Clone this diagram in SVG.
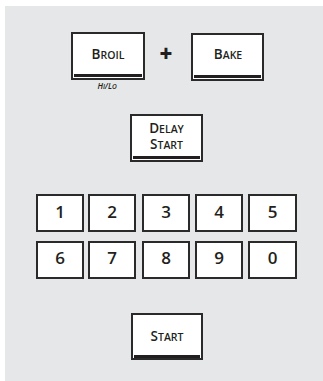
<svg xmlns="http://www.w3.org/2000/svg" width="323" height="381" viewBox="0 0 323 381">
<style>
.key{fill:#fff;stroke:#2a2a2a;stroke-width:2}
.bar{fill:#231f20}
.lbl{font-family:"Open Sans","Noto Sans",sans-serif;fill:#231f20;text-anchor:middle;font-weight:600}
.big{font-size:13.5px}
.sm{font-size:10.5px}
.num{font-family:"Open Sans","Noto Sans",sans-serif;fill:#231f20;text-anchor:middle;font-size:17px;font-weight:600}
</style>
<rect x="0" y="0" width="323" height="381" fill="#fff"/>
<rect x="5" y="6" width="318" height="375" fill="#e6e7e8"/>
<g id="broil">
<rect class="key" x="72" y="33" width="72" height="46"/>
<rect class="bar" x="74" y="74" width="68" height="3"/>
<text class="lbl" x="108" y="58.5"><tspan class="big">B</tspan><tspan class="sm">ROIL</tspan></text>
<text class="lbl" x="107" y="88.5" font-style="italic" font-weight="400"><tspan font-size="8">H</tspan><tspan font-size="6.5">I</tspan><tspan font-size="8">/L</tspan><tspan font-size="6.5">O</tspan></text>
</g>
<g id="plus">
<text x="166" y="62" font-family="'Open Sans','Noto Sans',sans-serif" font-size="22" font-weight="800" fill="#231f20" text-anchor="middle">+</text>
</g>
<g id="bake">
<rect class="key" x="192" y="34" width="71" height="46"/>
<rect class="bar" x="194" y="75" width="67" height="3"/>
<text class="lbl" x="228" y="58.5"><tspan class="big">B</tspan><tspan class="sm">AKE</tspan></text>
</g>
<g id="delay-start">
<rect class="key" x="131" y="115" width="71" height="46"/>
<rect class="bar" x="133" y="156" width="67" height="3"/>
<text class="lbl" x="166.5" y="132.5"><tspan class="big">D</tspan><tspan class="sm">ELAY</tspan></text>
<text class="lbl" x="166.5" y="149"><tspan class="big">S</tspan><tspan class="sm">TART</tspan></text>
</g>
<g id="k1"><rect class="key" x="37" y="195" width="46" height="36"/><text class="num" x="60" y="217.5">1</text></g>
<g id="k2"><rect class="key" x="89" y="195" width="46" height="36"/><text class="num" x="112" y="217.5">2</text></g>
<g id="k3"><rect class="key" x="143" y="195" width="46" height="36"/><text class="num" x="166" y="217.5">3</text></g>
<g id="k4"><rect class="key" x="196" y="195" width="46" height="36"/><text class="num" x="219" y="217.5">4</text></g>
<g id="k5"><rect class="key" x="249" y="195" width="47" height="36"/><text class="num" x="272.5" y="217.5">5</text></g>
<g id="k6"><rect class="key" x="37" y="242" width="46" height="36"/><text class="num" x="60" y="263.5">6</text></g>
<g id="k7"><rect class="key" x="89" y="242" width="46" height="36"/><text class="num" x="112" y="263.5">7</text></g>
<g id="k8"><rect class="key" x="143" y="242" width="46" height="36"/><text class="num" x="166" y="263.5">8</text></g>
<g id="k9"><rect class="key" x="196" y="242" width="46" height="36"/><text class="num" x="219" y="263.5">9</text></g>
<g id="k0"><rect class="key" x="249" y="242" width="47" height="36"/><text class="num" x="272.5" y="263.5">0</text></g>
<g id="start">
<rect class="key" x="132" y="314" width="70" height="45"/>
<rect class="bar" x="134" y="355" width="66" height="3"/>
<text class="lbl" x="167" y="341"><tspan class="big">S</tspan><tspan class="sm">TART</tspan></text>
</g>
<g id="connectors"></g>
</svg>
